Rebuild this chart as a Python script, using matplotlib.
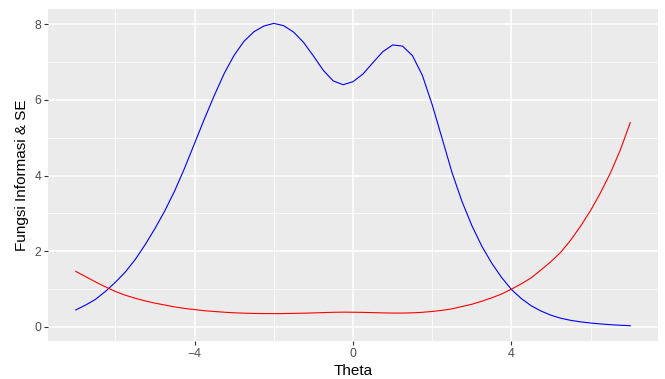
import numpy as np
import matplotlib.pyplot as plt

plt.rcParams['font.family'] = ['Liberation Sans', 'DejaVu Sans']

# theta grid and values
theta = np.arange(-7.0, 7.01, 0.25)

info = [0.45, 0.58, 0.73, 0.94, 1.18, 1.45, 1.78, 2.17, 2.60, 3.07,
        3.60, 4.20, 4.85, 5.50, 6.12, 6.70, 7.18, 7.55, 7.80, 7.95,
        8.02, 7.96, 7.79, 7.52, 7.16, 6.78, 6.50, 6.40, 6.48, 6.68,
        6.98, 7.27, 7.45, 7.42, 7.17, 6.65, 5.87, 4.98, 4.08, 3.32,
        2.68, 2.14, 1.69, 1.31, 0.99, 0.75, 0.56, 0.42, 0.31, 0.23,
        0.175, 0.135, 0.105, 0.08, 0.061, 0.046, 0.034]

se = [1.47, 1.33, 1.19, 1.06, 0.94, 0.84, 0.76, 0.69, 0.63, 0.58,
      0.53, 0.49, 0.46, 0.43, 0.41, 0.39, 0.375, 0.365, 0.358, 0.355,
      0.353, 0.355, 0.36, 0.365, 0.372, 0.38, 0.388, 0.392, 0.39, 0.386,
      0.38, 0.373, 0.368, 0.368, 0.374, 0.388, 0.41, 0.44, 0.48, 0.54,
      0.60, 0.68, 0.77, 0.87, 1.00, 1.14, 1.30, 1.51, 1.73, 1.98,
      2.30, 2.67, 3.08, 3.55, 4.07, 4.68, 5.40]

fig = plt.figure(figsize=(6.65, 3.79), dpi=100)
ax = fig.add_axes([48 / 665, 38 / 379, 610 / 665, 332 / 379])
ax.set_facecolor('#EBEBEB')

ax.plot(theta, info, color='blue', lw=0.8)
ax.plot(theta, se, color='red', lw=0.8)

ax.set_xlim(-7.7, 7.7)
ax.set_ylim(-0.37, 8.4)
ax.set_xticks([-4, 0, 4])
ax.set_yticks([0, 2, 4, 6, 8])
ax.set_xticks([-6, -2, 2, 6], minor=True)
ax.set_yticks([1, 3, 5, 7], minor=True)

ax.grid(which='major', color='white', lw=1.1)
ax.grid(which='minor', color='white', lw=0.55)
ax.set_axisbelow(True)
for s in ax.spines.values():
    s.set_visible(False)
ax.tick_params(which='major', length=3, width=0.8, color='#333333',
               labelcolor='#4D4D4D', labelsize=8.8, pad=2)
ax.tick_params(which='minor', length=0)

ax.set_xlabel('Theta', fontsize=11, labelpad=3)
ax.set_ylabel('Fungsi Informasi & SE', fontsize=11, labelpad=4)

fig.savefig('out.png', dpi=100)
